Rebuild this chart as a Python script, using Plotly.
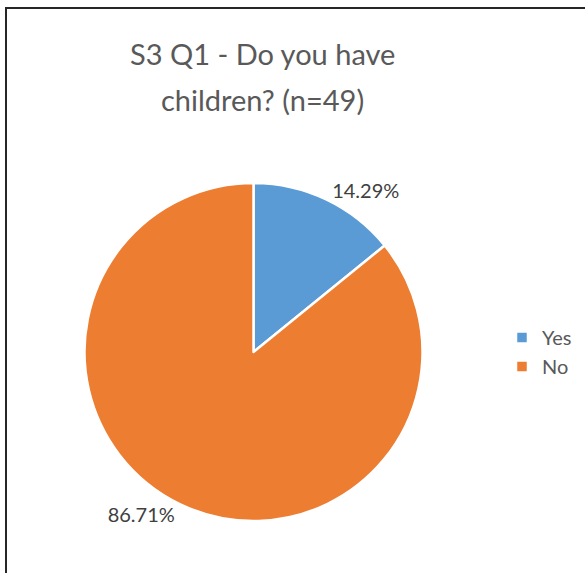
import plotly.graph_objects as go

labels = ["Yes", "No"]
values = [14.29, 86.71]
colors = ["#5B9BD5", "#ED7D31"]
title_lines = ["S3 Q1 - Do you have", "children? (n=49)"]

W, H = 585, 573

fig = go.Figure(go.Pie(
    labels=labels,
    values=values,
    sort=False,
    direction="clockwise",
    rotation=0,
    marker=dict(colors=colors, line=dict(color="white", width=2.5)),
    textposition="outside",
    texttemplate="%{value:.2f}%",
    textfont=dict(family="Lato", size=20, color="#404040"),
    domain=dict(x=[84.5 / W, 422.5 / W], y=[52 / H, 390 / H]),
    hoverinfo="label+value",
))

annotations = []
for i, line in enumerate(title_lines):
    annotations.append(dict(
        text=line, xref="paper", yref="paper",
        x=262 / W, y=1 - (54 + 45 * i) / H,
        xanchor="center", yanchor="middle", showarrow=False,
        font=dict(family="Lato", size=29, color="#595959"),
    ))

fig.update_layout(
    width=W, height=H,
    margin=dict(l=0, r=0, t=0, b=0),
    paper_bgcolor="white",
    annotations=annotations,
    legend=dict(
        x=502 / W, xanchor="left", y=1 - 352 / H, yanchor="middle",
        font=dict(family="Lato", size=20, color="#595959"),
        itemwidth=30,
    ),
    shapes=[dict(type="rect", xref="paper", yref="paper",
                 x0=6 / W, x1=1.05, y0=-0.05, y1=1 - 8 / H,
                 line=dict(color="#262626", width=2))],
)

fig.write_html("out.html", config={"displayModeBar": False},
               post_script="document.body.style.margin='0';")
